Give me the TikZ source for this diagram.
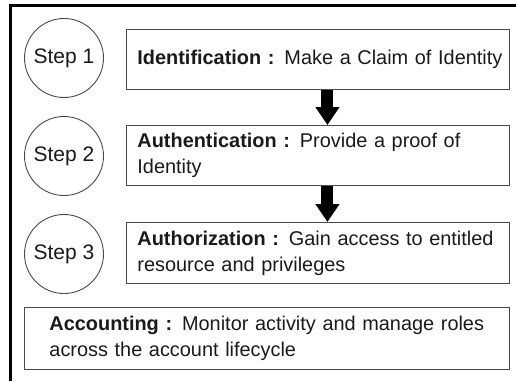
\documentclass[tikz,border=0pt]{standalone}
\usepackage{fontspec}
\setmainfont{Liberation Sans}
\usetikzlibrary{arrows.meta}
\definecolor{edge}{HTML}{4A4A4A}
\definecolor{txt}{HTML}{1A1A1A}
\begin{document}
\begin{tikzpicture}[x=1pt,y=-1pt,
  every node/.style={font=\fontsize{19.9}{26}\selectfont, text=txt},
  stepcircle/.style={circle, draw=edge, line width=0.9pt, minimum size=79pt, inner sep=0pt, font=\fontsize{21}{26}\selectfont},
  infobox/.style={draw=edge, line width=0.9pt, anchor=north west, align=left, inner xsep=11pt, inner ysep=0pt},
  blockarrow/.style={draw=black, line width=12pt, -{Triangle[width=23pt,length=18pt]}}]
\useasboundingbox (0,0) rectangle (516,381);
\draw[line width=2.5pt] (10.7,381) -- (10.7,5.5) -- (516,5.5);
\node[stepcircle] (c1) at (64,58) {Step 1};
\node[stepcircle] (c2) at (64,156) {Step 2};
\node[stepcircle] (c3) at (64,254) {Step 3};
\node[infobox, minimum width=383pt, minimum height=60pt, text width=361pt] (b1) at (126,29)
  {\mbox{\textbf{Identification :} Make a Claim of Identity}};
\node[infobox, minimum width=383pt, minimum height=60pt, text width=361pt] (b2) at (126,125)
  {\mbox{\textbf{Authentication :} Provide a proof of}\\Identity};
\node[infobox, minimum width=383pt, minimum height=61pt, text width=361pt] (b3) at (126,222)
  {\mbox{\textbf{Authorization :} Gain access to entitled}\\resource and privileges};
\node[infobox, inner xsep=25pt, minimum width=485pt, minimum height=62pt, text width=435pt] (b4) at (24,307)
  {\mbox{\textbf{Accounting :} Monitor activity and manage roles}\\across the account lifecycle};
\draw[blockarrow] ([xshift=9.5pt]b1.south) -- ([xshift=9.5pt]b2.north);
\draw[blockarrow] ([xshift=9.5pt]b2.south) -- ([xshift=9.5pt]b3.north);
\end{tikzpicture}
\end{document}
